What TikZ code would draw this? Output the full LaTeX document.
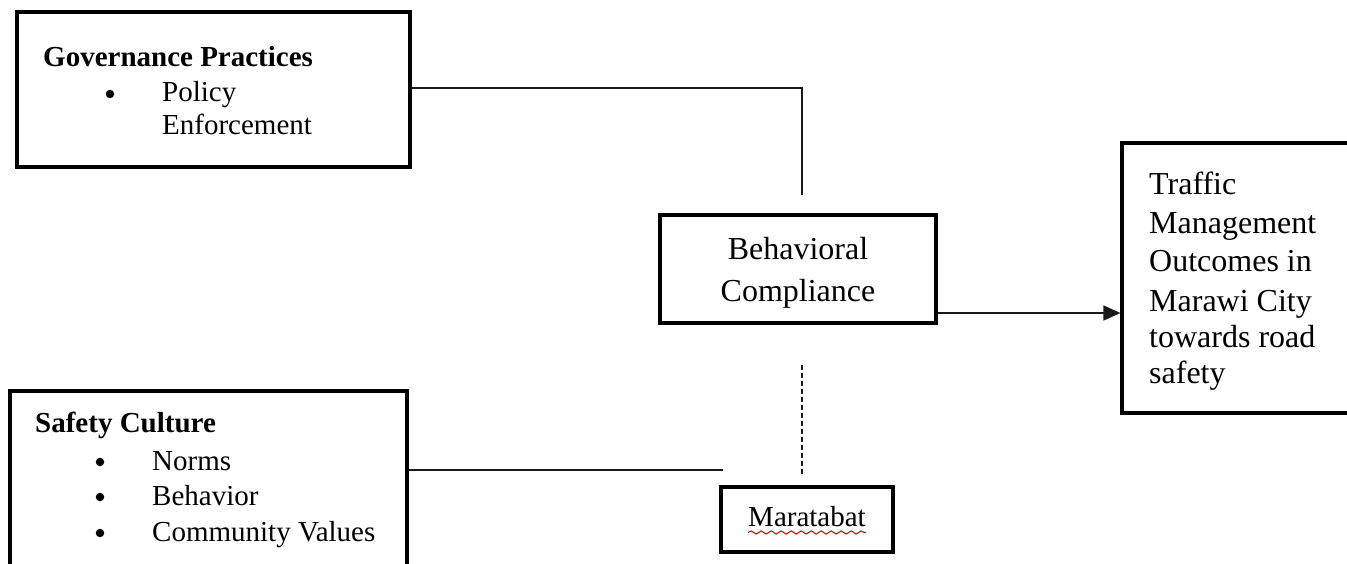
\documentclass[tikz,border=0pt]{standalone}
\usepackage{fontspec}
\setmainfont{Liberation Serif}
\usetikzlibrary{arrows.meta,decorations.pathmorphing}
\tikzset{
  box/.style={draw=black, line width=3.2pt, inner sep=0pt, fill=none},
  conn/.style={draw=black!90, line width=1.7pt},
  dconn/.style={draw=black!90, line width=1.8pt, dash pattern=on 5pt off 3pt},
  small/.style={anchor=base west, inner sep=0pt, font=\fontsize{29}{34}\selectfont},
  big/.style={inner sep=0pt, font=\fontsize{32}{38}\selectfont},
  dot/.style={circle, fill=black, inner sep=0pt, minimum size=8.5pt},
}
\begin{document}
\begin{tikzpicture}[x=1pt,y=-1pt]
\useasboundingbox (0,0) rectangle (1347,564);
\clip (0,0) rectangle (1347,564);
\fill[white] (0,0) rectangle (1347,564);
% boxes
\node[box, minimum width=393pt, minimum height=155pt] (gov) at (213.5,89.5) {};
\node[box, minimum width=397pt, minimum height=200pt] (safe) at (208.5,491) {};
\node[box, minimum width=276pt, minimum height=108pt] (beh) at (798,269) {};
\node[box, minimum width=172pt, minimum height=65pt] (mar) at (807,519.5) {};
\node[box, minimum width=240pt, minimum height=270pt] (traf) at (1242,278) {};
% governance text
\node[small, font=\fontsize{29}{34}\selectfont\bfseries] (govt) at (43,67) {Governance Practices};
\node[dot] (govb) at (110,94) {};
\node[small] (govp) at (162,102) {Policy};
\node[small] (gove) at (162,135) {Enforcement};
% safety text
\node[small, font=\fontsize{29}{34}\selectfont\bfseries] (safet) at (35,432) {Safety Culture};
\node[dot] (safeb1) at (100,462) {};
\node[small] (safen) at (152,470) {Norms};
\node[dot] (safeb2) at (100,497) {};
\node[small] (safebh) at (152,505) {Behavior};
\node[dot] (safeb3) at (100,533) {};
\node[small] (safec) at (152,541) {Community Values};
% behavioral text
\node[big, anchor=base] (beh1) at (798,260) {Behavioral};
\node[big, anchor=base] (beh2) at (798,301) {Compliance};
% maratabat
\node[small, anchor=base] (mart) at (807,526) {Maratabat};
\draw[red!85!black, line width=1pt, decorate, decoration={snake, amplitude=1.6pt, segment length=10pt}]
  ([yshift=-6.5pt]mart.base west) -- ([yshift=-6.5pt]mart.base east);
% traffic text
\node[big, anchor=base west] (t1) at (1149,195) {Traffic};
\node[big, anchor=base west] (t2) at (1149,234) {Management};
\node[big, anchor=base west] (t3) at (1149,272) {Outcomes in};
\node[big, anchor=base west] (t4) at (1149,311) {Marawi City};
\node[big, anchor=base west] (t5) at (1149,347) {towards road};
\node[big, anchor=base west] (t6) at (1149,383) {safety};
% connectors
\coordinate (govend) at (802,195);
\draw[conn] (gov.east |- 0,88) -| (govend);
\coordinate (safeend) at (723,470);
\draw[conn] (safe.east |- safeend) -- (safeend);
\coordinate (dtop) at (802,365);
\coordinate (dbot) at (802,475);
\draw[dconn] (dtop) -- (dbot);
\draw[conn, -{Triangle[length=17pt,width=15pt]}] (beh.east |- 0,313) -- (traf.west |- 0,313);
\end{tikzpicture}
\end{document}
